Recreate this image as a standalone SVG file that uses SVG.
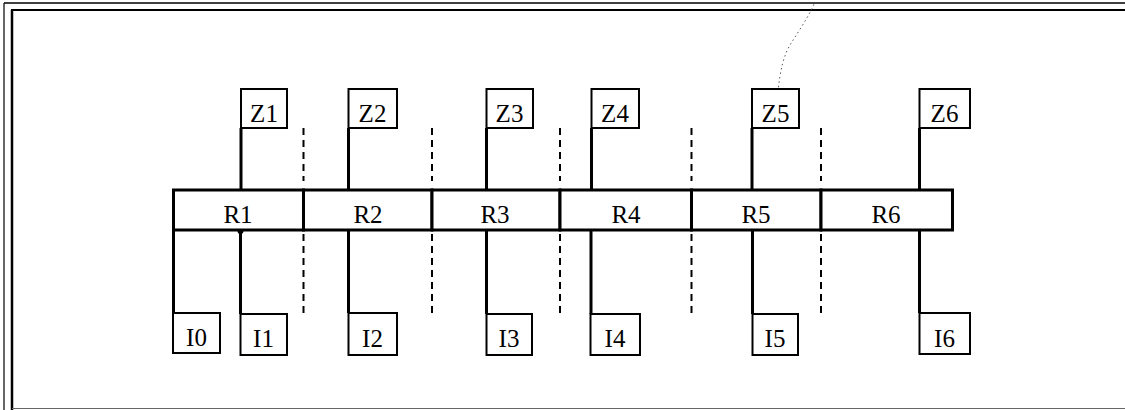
<svg xmlns="http://www.w3.org/2000/svg" width="1125" height="410" viewBox="0 0 1125 410">
<style>
.box{fill:#fff;stroke:#000;stroke-width:2}
.bar{fill:#fff;stroke:#000;stroke-width:3}
.lbl{font-family:"Liberation Serif","Times New Roman",serif;font-size:25px;fill:#000;text-anchor:middle}
.wire{stroke:#000;stroke-width:3;fill:none}
.sep{stroke:#000;stroke-width:2;stroke-dasharray:7,5;fill:none}
.frame{stroke:#000;fill:none}
</style>
<rect width="1125" height="410" fill="#fff"/>
<g id="frame">
<line class="frame" x1="4" y1="3" x2="1125" y2="3" stroke-width="1.5"/>
<line class="frame" x1="11" y1="10" x2="1125" y2="10" stroke-width="2"/>
<line class="frame" x1="4" y1="3" x2="4" y2="410" stroke-width="1.2"/>
<line class="frame" x1="12" y1="10" x2="12" y2="410" stroke-width="2.5"/>
<line x1="12" y1="408.5" x2="1125" y2="408.5" stroke="#666" stroke-width="1"/>
<path d="M778,92 C780,70 784,55 790,45 C798,32 808,18 814,4" fill="none" stroke="#555" stroke-width="1" stroke-dasharray="1.5,3"/>
</g>
<g id="connectors">
<line class="wire" x1="241" y1="128" x2="241" y2="190"/>
<line class="wire" x1="348.5" y1="128" x2="348.5" y2="190"/>
<line class="wire" x1="486.5" y1="128" x2="486.5" y2="190"/>
<line class="wire" x1="591.5" y1="128" x2="591.5" y2="190"/>
<line class="wire" x1="752" y1="128" x2="752" y2="190"/>
<line class="wire" x1="919.5" y1="128" x2="919.5" y2="190"/>
<line class="wire" x1="173.5" y1="230" x2="173.5" y2="313"/>
<line class="wire" x1="240.5" y1="230" x2="240.5" y2="314"/>
<circle cx="240.5" cy="231" r="3" fill="#000"/>
<line class="wire" x1="348.5" y1="230" x2="348.5" y2="313"/>
<line class="wire" x1="486.5" y1="230" x2="486.5" y2="314"/>
<line class="wire" x1="591" y1="230" x2="591" y2="314"/>
<line class="wire" x1="752.5" y1="230" x2="752.5" y2="314"/>
<line class="wire" x1="919.5" y1="230" x2="919.5" y2="313"/>
<line class="sep" x1="303.5" y1="128" x2="303.5" y2="181"/>
<line class="sep" x1="432" y1="128" x2="432" y2="181"/>
<line class="sep" x1="560" y1="128" x2="560" y2="181"/>
<line class="sep" x1="691.5" y1="128" x2="691.5" y2="181"/>
<line class="sep" x1="821" y1="128" x2="821" y2="181"/>
<line class="sep" x1="303.5" y1="234" x2="303.5" y2="317"/>
<line class="sep" x1="432" y1="234" x2="432" y2="317"/>
<line class="sep" x1="560" y1="234" x2="560" y2="317"/>
<line class="sep" x1="691.5" y1="234" x2="691.5" y2="317"/>
<line class="sep" x1="821" y1="234" x2="821" y2="317"/>
</g>
<g id="R1"><rect class="bar" x="173.5" y="190" width="130" height="40"/><text class="lbl" x="238" y="223">R1</text></g>
<g id="R2"><rect class="bar" x="303.5" y="190" width="128.5" height="40"/><text class="lbl" x="368" y="223">R2</text></g>
<g id="R3"><rect class="bar" x="432" y="190" width="128" height="40"/><text class="lbl" x="495" y="223">R3</text></g>
<g id="R4"><rect class="bar" x="560" y="190" width="131.5" height="40"/><text class="lbl" x="626" y="223">R4</text></g>
<g id="R5"><rect class="bar" x="691.5" y="190" width="129.5" height="40"/><text class="lbl" x="756" y="223">R5</text></g>
<g id="R6"><rect class="bar" x="821" y="190" width="131.5" height="40"/><text class="lbl" x="886" y="223">R6</text></g>
<g id="Z1"><rect class="box" x="241" y="89" width="46" height="39"/><text class="lbl" x="264" y="122">Z1</text></g>
<g id="Z2"><rect class="box" x="348.5" y="89" width="48.5" height="39"/><text class="lbl" x="372.5" y="122">Z2</text></g>
<g id="Z3"><rect class="box" x="486.5" y="89" width="46.5" height="39"/><text class="lbl" x="509.5" y="122">Z3</text></g>
<g id="Z4"><rect class="box" x="591.5" y="89" width="47.5" height="39"/><text class="lbl" x="615" y="122">Z4</text></g>
<g id="Z5"><rect class="box" x="752" y="89" width="47" height="39"/><text class="lbl" x="775.5" y="122">Z5</text></g>
<g id="Z6"><rect class="box" x="919.5" y="89" width="50.5" height="39"/><text class="lbl" x="944.5" y="122">Z6</text></g>
<g id="I0"><rect class="box" x="173" y="313" width="47" height="40"/><text class="lbl" x="196.5" y="346">I0</text></g>
<g id="I1"><rect class="box" x="240.5" y="314" width="46.5" height="41"/><text class="lbl" x="263.5" y="347">I1</text></g>
<g id="I2"><rect class="box" x="348.5" y="313" width="48.5" height="42"/><text class="lbl" x="372.5" y="347">I2</text></g>
<g id="I3"><rect class="box" x="486.5" y="314" width="45.5" height="41"/><text class="lbl" x="509" y="347">I3</text></g>
<g id="I4"><rect class="box" x="590.5" y="314" width="49.5" height="41"/><text class="lbl" x="615" y="347">I4</text></g>
<g id="I5"><rect class="box" x="752.5" y="314" width="45.5" height="41"/><text class="lbl" x="775" y="347">I5</text></g>
<g id="I6"><rect class="box" x="919.5" y="313" width="50.5" height="41"/><text class="lbl" x="944.5" y="347">I6</text></g>
</svg>
